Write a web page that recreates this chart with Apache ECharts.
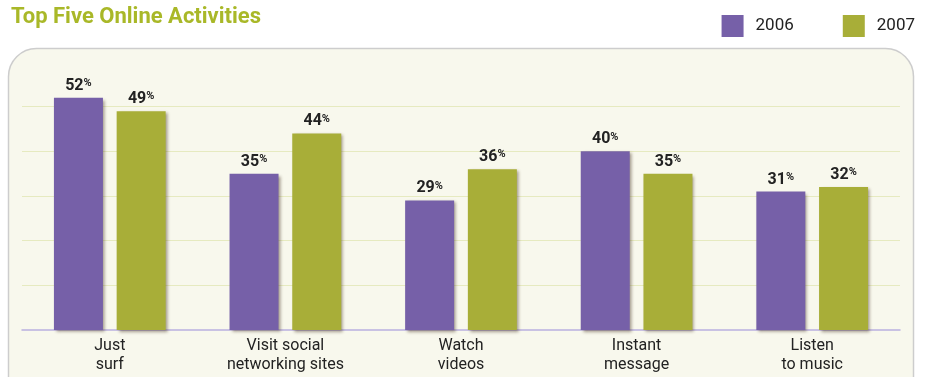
<!DOCTYPE html>
<html><head><meta charset="utf-8">
<script src="https://cdn.jsdelivr.net/npm/echarts@6/dist/echarts.min.js"></script>
<style>html,body{margin:0;padding:0;background:#fff}#c{width:927px;height:377px}</style>
</head><body><div id="c"></div>
<script>
const categories = ['Just\nsurf', 'Visit social\nnetworking sites', 'Watch\nvideos', 'Instant\nmessage', 'Listen\nto music'];
const values2006 = [52, 35, 29, 40, 31];
const values2007 = [49, 44, 36, 35, 32];
const seriesNames = ['2006', '2007'];
const yTicks = [0, 10, 20, 30, 40, 50, 60];

const FONT = '"Liberation Sans Narrow", "Roboto", "Liberation Sans", sans-serif';
const PURPLE = '#7660a8';
const GREEN = '#a8ae38';

const chart = echarts.init(document.getElementById('c'), null, {renderer: 'canvas'});
const labelCfg = {
  show: true, position: 'top', distance: 4,
  formatter: p => '{n|' + p.value + '}{p|%}',
  rich: {
    n: {fontFamily: FONT, fontWeight: 'bold', fontSize: 16, color: '#222'},
    p: {fontFamily: FONT, fontWeight: 'bold', fontSize: 11, color: '#222', verticalAlign: 'top', padding: [0,0,4,0]}
  }
};
const shadow = {shadowBlur: 3, shadowOffsetX: 2, shadowOffsetY: 2, shadowColor: 'rgba(60,40,20,0.45)'};
chart.setOption({
  animation: false,
  backgroundColor: '#ffffff',
  graphic: [
    {type: 'rect', z: -10, shape: {x: 8.5, y: 48.5, width: 905, height: 360, r: 28},
     style: {fill: '#f8f8ed', stroke: '#cdcdcd', lineWidth: 1.5}}
  ],
  title: {
    text: 'Top Five Online Activities', left: 6, top: 1,
    textStyle: {fontFamily: FONT, fontWeight: 'bold', fontSize: 22, color: '#a9b828'}
  },
  legend: {
    right: 7, top: 10, itemWidth: 22, itemHeight: 22, itemGap: 49,
    textStyle: {fontFamily: FONT, fontSize: 17, color: '#222', padding: [0,0,0,7]},
    data: seriesNames.map((n, i) => ({name: n, icon: 'rect', itemStyle: {color: i ? GREEN : PURPLE}}))
  },
  grid: {left: 22, right: 27, top: 62, bottom: 47, containLabel: false},
  xAxis: {
    type: 'category', data: categories,
    axisLine: {show: true, lineStyle: {color: '#b9b0e0', width: 1.5}},
    axisTick: {show: false},
    axisLabel: {fontFamily: FONT, fontSize: 16, color: '#222', lineHeight: 19, margin: 6}
  },
  yAxis: {
    type: 'value', min: yTicks[0], max: yTicks[yTicks.length - 1], interval: 10,
    axisLabel: {show: false}, axisLine: {show: false}, axisTick: {show: false},
    splitLine: {show: true, showMinLine: false, showMaxLine: false, lineStyle: {color: '#e6eac0', width: 1.2}}
  },
  series: [
    {name: seriesNames[0], type: 'bar', data: values2006, barWidth: 49, barGap: '28%',
     itemStyle: Object.assign({color: PURPLE}, shadow), label: labelCfg},
    {name: seriesNames[1], type: 'bar', data: values2007, barWidth: 49, barGap: '28%',
     itemStyle: Object.assign({color: GREEN}, shadow), label: labelCfg}
  ]
});
</script></body></html>
